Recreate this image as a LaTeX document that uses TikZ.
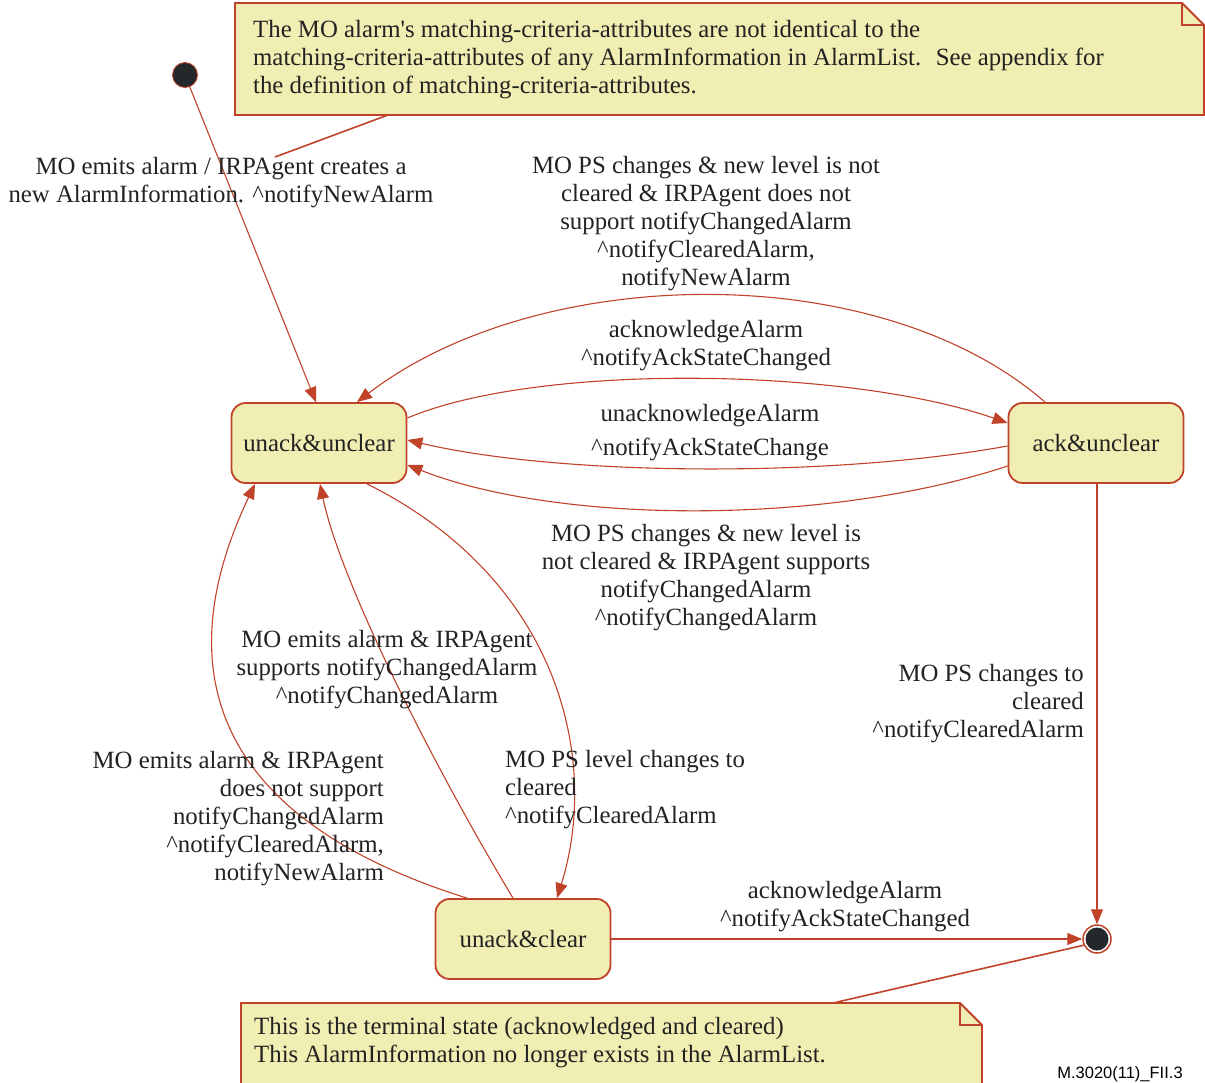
\documentclass[tikz,border=0pt]{standalone}
\usepackage{fontspec}
\setmainfont{Liberation Serif}
\newfontfamily\codefont{Liberation Sans}
\usetikzlibrary{arrows.meta,calc}
\definecolor{edgered}{RGB}{192,66,40}
\definecolor{statefill}{RGB}{240,238,178}
\definecolor{dotfill}{RGB}{37,40,42}
\definecolor{ink}{RGB}{34,34,34}

\begin{document}
\begin{tikzpicture}[x=1pt,y=-1pt,
  font=\fontsize{24.8}{28}\selectfont, text=ink,
  state/.style={draw=edgered, line width=1.8pt, fill=statefill,
    rounded corners=14pt, minimum width=175pt, minimum height=80pt, inner sep=0pt},
  trans/.style={draw=edgered, line width=1.1pt, -{Triangle[length=15pt,width=12pt]}},
  notebox/.style={draw=edgered, line width=1.8pt, fill=statefill},
  noteedge/.style={draw=edgered, line width=1.6pt},
  lbl/.style={align=center, inner sep=0pt},
]
\useasboundingbox (0,0) rectangle (1205,1082);

% ---- notes ----
\draw[notebox] (235,3) -- (1182,3) -- (1204,25) -- (1204,115) -- (235,115) -- cycle;
\draw[noteedge, line width=1.2pt] (1182,3) -- (1182,25) -- (1204,25);
\node[anchor=west, align=left, inner sep=0pt] (topnote) at (253,60)
  {The MO alarm\textquotesingle s matching-criteria-attributes are not identical to the\\
   matching-criteria-attributes of any AlarmInformation in AlarmList.~ See appendix for\\
   the definition of matching-criteria-attributes.};

\draw[notebox] (241,1003) -- (960,1003) -- (982,1025) -- (982,1095) -- (241,1095) -- cycle;
\draw[noteedge, line width=1.2pt] (960,1003) -- (960,1025) -- (982,1025);
\node[anchor=west, align=left, inner sep=0pt] (botnote) at (254,1043)
  {This is the terminal state (acknowledged and cleared)\\
   This AlarmInformation no longer exists in the AlarmList.};

% ---- states ----
\node[circle, fill=dotfill, draw=edgered, line width=0.8pt, minimum size=25pt, inner sep=0pt] (init) at (185,75) {};
\node[state] (uu) at (319,443) {unack\&unclear};
\node[state] (au) at (1096,443) {ack\&unclear};
\node[state] (uc) at (523,939) {unack\&clear};
\node[circle, draw=edgered, fill=white, line width=1.5pt, minimum size=28pt, inner sep=0pt] (final) at (1097,939) {};
\fill[dotfill] (final.center) circle (11.5pt);

% ---- note connectors ----
\coordinate (topnoteA) at (388,115);
\coordinate (topnoteB) at (275,157);
\draw[noteedge] (topnoteA) -- (topnoteB);
\coordinate (botnoteA) at (833,1003);
\draw[noteedge] (botnoteA) -- (final.205);

% ---- transitions ----
\draw[trans] (init) -- ([xshift=-3pt]uu.north);
\draw[trans] ([xshift=-51pt]au.north) .. controls (880,258) and (540,262) .. ([xshift=38pt]uu.north);
\draw[trans] ([yshift=25pt]uu.east) .. controls (540,362) and (850,368) .. ([yshift=20pt]au.west);
\draw[trans] ([yshift=-3pt]au.west) .. controls (830,478) and (560,476) .. ([yshift=3pt]uu.east);
\draw[trans] ([yshift=-23pt]au.west) .. controls (830,525) and (560,525) .. ([yshift=-22pt]uu.east);
\draw[trans] ([xshift=48pt]uu.south) .. controls (560,580) and (600,760) .. ([xshift=34pt]uc.north);
\draw[trans] ([xshift=-10pt]uc.north) .. controls (430,760) and (340,580) .. ([xshift=1pt]uu.south);
\draw[trans] ([xshift=-56pt]uc.north) .. controls (154,800) and (195,610) .. ([xshift=-64pt]uu.south);
\draw[trans] ([xshift=1pt]au.south) -- (final);
\draw[trans] (uc) -- (final);

% ---- transition labels ----
\node[lbl] (l1) at (221,183) {MO emits alarm / IRPAgent creates a\\ new AlarmInformation. \textasciicircum notifyNewAlarm};
\node[lbl] (l2) at (706,224) {MO PS changes \& new level is not\\ cleared \& IRPAgent does not\\ support notifyChangedAlarm\\ \textasciicircum notifyClearedAlarm,\\ notifyNewAlarm};
\node[lbl] (l3) at (706,346) {acknowledgeAlarm\\ \textasciicircum notifyAckStateChanged};
\node[lbl] (l4a) at (710,416) {unacknowledgeAlarm};
\node[lbl] (l4b) at (710,449) {\textasciicircum notifyAckStateChange};
\node[lbl] (l5) at (706,578) {MO PS changes \& new level is\\ not cleared \& IRPAgent supports\\ notifyChangedAlarm\\ \textasciicircum notifyChangedAlarm};
\node[lbl] (l6) at (387,670) {MO emits alarm \& IRPAgent\\ supports notifyChangedAlarm\\ \textasciicircum notifyChangedAlarm};
\node[lbl, align=right, anchor=east] (l7) at (384,819) {MO emits alarm \& IRPAgent\\ does not support\\ notifyChangedAlarm\\ \textasciicircum notifyClearedAlarm,\\ notifyNewAlarm};
\node[lbl, align=left, anchor=west] (l8) at (505,790) {MO PS level changes to\\ cleared\\ \textasciicircum notifyClearedAlarm};
\node[lbl, align=right, anchor=east] (l9) at (1084,704) {MO PS changes to\\ cleared\\ \textasciicircum notifyClearedAlarm};
\node[lbl] (l10) at (845,907) {acknowledgeAlarm\\ \textasciicircum notifyAckStateChanged};

\node[font=\codefont\fontsize{16.5}{18}\selectfont, text=black, inner sep=0pt] (code) at (1120,1074) {M.3020(11)\_FII.3};
\end{tikzpicture}
\end{document}
